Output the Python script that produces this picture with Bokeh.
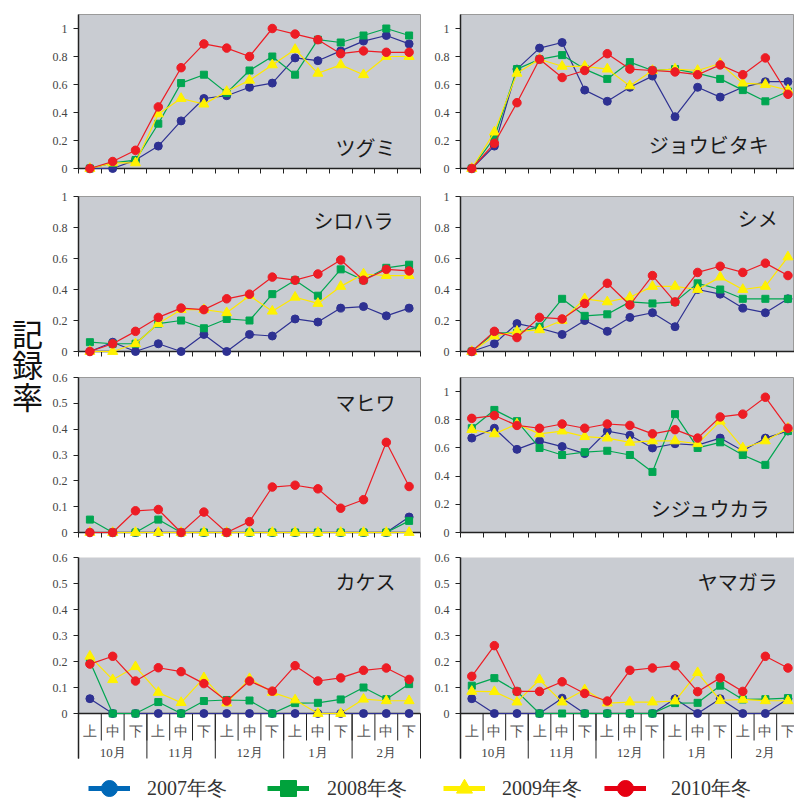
from bokeh.plotting import figure
from bokeh.models import (ColumnDataSource, Range1d, FixedTicker, Label, Span, BoxAnnotation,
                          Legend, LegendItem, PrintfTickFormatter)
from bokeh.layouts import gridplot, row, column
from bokeh.core.properties import value
from bokeh.embed import file_html
from bokeh.resources import INLINE
from bokeh.core.validation import silence
from bokeh.core.validation.warnings import MISSING_RENDERERS

silence(MISSING_RENDERERS, True)

# ---------------- data ----------------
months = ["10月", "11月", "12月", "1月", "2月"]
periods = ["上", "中", "下"]
categories = [(m, s) for m in months for s in periods]
years = ["2007年冬", "2008年冬", "2009年冬", "2010年冬"]
y_label_text = "記録率"

y_ticks_unit = [0, 0.2, 0.4, 0.6, 0.8, 1]
y_ticks_small = [0, 0.1, 0.2, 0.3, 0.4, 0.5, 0.6]

tsugumi_2007 = [0, 0, 0.06, 0.16, 0.34, 0.50, 0.52, 0.58, 0.61, 0.79, 0.77, 0.84, 0.91, 0.95, 0.89]
tsugumi_2008 = [0, 0.04, 0.06, 0.32, 0.61, 0.67, 0.54, 0.70, 0.80, 0.67, 0.92, 0.90, 0.95, 1.0, 0.95]
tsugumi_2009 = [0, 0.04, 0.04, 0.39, 0.50, 0.46, 0.55, 0.63, 0.74, 0.85, 0.68, 0.74, 0.67, 0.80, 0.80]
tsugumi_2010 = [0, 0.05, 0.13, 0.44, 0.72, 0.89, 0.86, 0.80, 1.0, 0.96, 0.92, 0.82, 0.84, 0.83, 0.83]

joubitaki_2007 = [0, 0.16, 0.71, 0.86, 0.90, 0.56, 0.48, 0.58, 0.66, 0.37, 0.58, 0.51, 0.58, 0.62, 0.62]
joubitaki_2008 = [0, 0.22, 0.71, 0.78, 0.81, 0.71, 0.64, 0.76, 0.70, 0.71, 0.68, 0.64, 0.56, 0.48, 0.55]
joubitaki_2009 = [0, 0.26, 0.68, 0.78, 0.73, 0.73, 0.71, 0.59, 0.70, 0.71, 0.70, 0.75, 0.61, 0.60, 0.56]
joubitaki_2010 = [0, 0.18, 0.47, 0.78, 0.65, 0.70, 0.82, 0.71, 0.70, 0.69, 0.67, 0.74, 0.67, 0.79, 0.53]

shirohara_2007 = [0, 0.06, 0, 0.05, 0, 0.11, 0, 0.11, 0.10, 0.21, 0.19, 0.28, 0.29, 0.23, 0.28]
shirohara_2008 = [0.06, 0.05, 0.05, 0.18, 0.20, 0.15, 0.21, 0.20, 0.37, 0.46, 0.36, 0.53, 0.46, 0.54, 0.56]
shirohara_2009 = [0, 0, 0.05, 0.18, 0.27, 0.27, 0.25, 0.36, 0.26, 0.35, 0.31, 0.42, 0.50, 0.49, 0.49]
shirohara_2010 = [0, 0.05, 0.13, 0.22, 0.28, 0.27, 0.34, 0.37, 0.48, 0.46, 0.50, 0.59, 0.46, 0.53, 0.52]

shime_2007 = [0, 0.05, 0.18, 0.15, 0.11, 0.20, 0.13, 0.22, 0.25, 0.16, 0.40, 0.37, 0.28, 0.25, 0.34]
shime_2008 = [0, 0.12, 0.12, 0.16, 0.34, 0.23, 0.24, 0.32, 0.31, 0.32, 0.44, 0.40, 0.34, 0.34, 0.34]
shime_2009 = [0, 0.10, 0.13, 0.14, 0.20, 0.34, 0.32, 0.35, 0.42, 0.42, 0.40, 0.48, 0.40, 0.42, 0.61]
shime_2010 = [0, 0.13, 0.09, 0.22, 0.21, 0.31, 0.44, 0.30, 0.49, 0.32, 0.51, 0.55, 0.51, 0.57, 0.49]

mahiwa_2007 = [0, 0, 0, 0, 0, 0, 0, 0, 0, 0, 0, 0, 0, 0, 0.06]
mahiwa_2008 = [0.05, 0, 0, 0.05, 0, 0, 0, 0, 0, 0, 0, 0, 0, 0, 0.045]
mahiwa_2009 = [0, 0, 0, 0, 0, 0, 0, 0, 0, 0, 0, 0, 0, 0, 0]
mahiwa_2010 = [0, 0, 0.084, 0.089, 0, 0.079, 0, 0.042, 0.176, 0.183, 0.169, 0.094, 0.127, 0.349, 0.178]

shijuukara_2007 = [0.67, 0.74, 0.59, 0.65, 0.61, 0.56, 0.72, 0.69, 0.60, 0.63, 0.62, 0.67, 0.58, 0.67, 0.72]
shijuukara_2008 = [0.74, 0.87, 0.79, 0.60, 0.55, 0.57, 0.58, 0.55, 0.43, 0.84, 0.60, 0.64, 0.55, 0.48, 0.72]
shijuukara_2009 = [0.73, 0.70, 0.77, 0.70, 0.72, 0.68, 0.67, 0.64, 0.65, 0.65, 0.63, 0.79, 0.60, 0.65, 0.74]
shijuukara_2010 = [0.81, 0.83, 0.76, 0.74, 0.77, 0.74, 0.77, 0.76, 0.70, 0.73, 0.67, 0.82, 0.84, 0.96, 0.74]

kakesu_2007 = [0.057, 0, 0, 0, 0, 0, 0, 0, 0, 0, 0, 0, 0, 0, 0]
kakesu_2008 = [0.20, 0, 0, 0.044, 0, 0.048, 0.052, 0.05, 0, 0.04, 0.041, 0.054, 0.10, 0.055, 0.113]
kakesu_2009 = [0.22, 0.13, 0.18, 0.081, 0.042, 0.137, 0.04, 0.134, 0.081, 0.052, 0, 0, 0.055, 0.049, 0.049]
kakesu_2010 = [0.19, 0.22, 0.125, 0.176, 0.161, 0.115, 0.048, 0.125, 0.086, 0.184, 0.125, 0.137, 0.166, 0.175, 0.131]

yamagara_2007 = [0.057, 0, 0, 0, 0.059, 0, 0, 0, 0, 0.057, 0, 0.057, 0, 0, 0.057]
yamagara_2008 = [0.107, 0.136, 0.085, 0, 0, 0, 0, 0, 0, 0.04, 0.041, 0.107, 0.054, 0.055, 0.059]
yamagara_2009 = [0.085, 0.084, 0.044, 0.13, 0.044, 0.091, 0.04, 0.044, 0.044, 0.048, 0.157, 0.05, 0.054, 0.049, 0.049]
yamagara_2010 = [0.143, 0.261, 0.085, 0.085, 0.122, 0.077, 0.048, 0.166, 0.175, 0.184, 0.084, 0.137, 0.085, 0.22, 0.175]

# ---------------- styles ----------------
SERIF = "Liberation Serif"
SANS = "Noto Sans CJK JP"
BG = "#C9CCD2"
AX = "#222222"
OUTLINE = "#9A9A9A"
line_colors = ["#2E3192", "#00A651", "#FFE800", "#ED1C24"]
fill_colors = ["#2E3192", "#00A651", "#FFF200", "#ED1C24"]
legend_colors = ["#0068B7", "#00A23C", "#FFF000", "#E60012"]
markers = ["circle", "square", "triangle", "circle"]
marker_sizes = [8, 7, 10, 8.5]

x_idx = list(range(len(categories)))
bounds = [i - 0.5 for i in range(len(categories) + 1)]
month_centers = [len(periods) * k + 1 for k in range(len(months))]
month_bounds = [len(periods) * k - 0.5 for k in range(len(months) + 1)]
sub_labels = [c[1] for c in categories]

LEFT_W, RIGHT_W, YLAB_W = 376, 370, 48
ROW_H = [184, 180, 180, 218]

# bottom-row category band (pixel lengths below the zero line)
BAND_PX, SUB_SEP_PX, SUB_TXT_PX, MON_TXT_PX = 45, 27, 17.5, 38.5


def style_yaxis(p, yticks):
    ya = p.yaxis[0]
    ya.ticker = FixedTicker(ticks=yticks)
    ya.formatter = PrintfTickFormatter(format="%g")
    ya.major_tick_out = 5
    ya.major_tick_in = 0
    ya.minor_tick_out = 0
    ya.minor_tick_in = 0
    ya.axis_line_color = AX
    ya.axis_line_width = 1.5
    ya.major_tick_line_color = AX
    ya.major_label_standoff = 6
    ya.major_label_text_font = SERIF
    ya.major_label_text_font_size = "12px"
    ya.major_label_text_color = "#444444"


def make_panel(name, series, ymax, yticks, width, height, borders, x_end,
               bottom, name_pos):
    bl, br, bt, bb = borders
    frame_h = height - bt - bb
    if bottom:
        px_per_unit = (frame_h - BAND_PX) / ymax
        y0 = -BAND_PX / px_per_unit
    else:
        y0 = 0
    p = figure(width=width, height=height, x_range=Range1d(-0.5, x_end),
               y_range=Range1d(y0, ymax), output_backend="svg",
               toolbar_location=None, title=None,
               min_border_left=bl, min_border_right=br,
               min_border_top=bt, min_border_bottom=bb,
               background_fill_color=BG if not bottom else "white",
               border_fill_color="white",
               outline_line_color=OUTLINE if not bottom else None, outline_line_width=1)
    p.xgrid.visible = False
    p.ygrid.visible = False
    style_yaxis(p, yticks)

    xa = p.xaxis[0]
    if not bottom:
        xa.axis_line_color = AX
        xa.axis_line_width = 1.5
        xa.ticker = FixedTicker(ticks=[], minor_ticks=bounds)
        xa.major_tick_out = 0
        xa.major_tick_in = 0
        xa.minor_tick_out = 5
        xa.minor_tick_in = 0
        xa.minor_tick_line_color = AX
    else:
        xa.visible = False
        p.add_layout(BoxAnnotation(bottom=0, fill_color=BG, fill_alpha=1,
                                   line_color=OUTLINE, line_width=1, level="underlay"))
        p.add_layout(Span(location=0, dimension="width", line_color=AX, line_width=1.5))
        sub_bot = -SUB_SEP_PX / px_per_unit
        p.segment(x0=bounds, y0=[0] * len(bounds), x1=bounds, y1=[sub_bot] * len(bounds),
                  line_color=AX, line_width=1, level="overlay")
        p.segment(x0=month_bounds, y0=[0] * len(month_bounds), x1=month_bounds,
                  y1=[y0] * len(month_bounds), line_color=AX, line_width=1, level="overlay")
        p.text(x=x_idx, y=[-SUB_TXT_PX / px_per_unit] * len(x_idx), text=sub_labels,
               text_align="center", text_baseline="middle", text_font=value(SERIF),
               text_font_size="14px", text_color="#555555")
        p.text(x=month_centers, y=[-MON_TXT_PX / px_per_unit] * len(month_centers), text=months,
               text_align="center", text_baseline="middle", text_font=value(SERIF),
               text_font_size="13px", text_color="#444444")

    for vals, lc, fc, mk, sz in zip(series, line_colors, fill_colors, markers, marker_sizes):
        src = ColumnDataSource(dict(x=x_idx, y=vals))
        p.line("x", "y", source=src, line_color=lc, line_width=1.2, level="overlay")
        p.scatter("x", "y", source=src, marker=mk, size=sz, fill_color=fc,
                  line_color=fc, level="overlay")

    p.add_layout(Label(x=name_pos[0], y=name_pos[1], text=name, text_align="right",
                       text_baseline="middle", text_font=SANS, text_font_size="20px",
                       text_color="#1A1A1A"))
    return p


L_END, R_END = 14.5, 14.29

p1 = make_panel("ツグミ", [tsugumi_2007, tsugumi_2008, tsugumi_2009, tsugumi_2010],
                1.1, y_ticks_unit, LEFT_W, ROW_H[0], (30, 4, 12, 16), L_END, False, (13.4, 0.15))
p2 = make_panel("ジョウビタキ", [joubitaki_2007, joubitaki_2008, joubitaki_2009, joubitaki_2010],
                1.1, y_ticks_unit, RIGHT_W, ROW_H[0], (36, 0, 14, 12), R_END, False, (13.15, 0.17))
p3 = make_panel("シロハラ", [shirohara_2007, shirohara_2008, shirohara_2009, shirohara_2010],
                1.0, y_ticks_unit, LEFT_W, ROW_H[1], (30, 4, 12, 13), L_END, False, (13.32, 0.845))
p4 = make_panel("シメ", [shime_2007, shime_2008, shime_2009, shime_2010],
                1.0, y_ticks_unit, RIGHT_W, ROW_H[1], (36, 0, 12, 12), R_END, False, (13.55, 0.86))
p5 = make_panel("マヒワ", [mahiwa_2007, mahiwa_2008, mahiwa_2009, mahiwa_2010],
                0.6, y_ticks_small, LEFT_W, ROW_H[2], (30, 4, 13, 12), L_END, False, (13.4, 0.503))
p6 = make_panel("シジュウカラ", [shijuukara_2007, shijuukara_2008, shijuukara_2009, shijuukara_2010],
                1.1, y_ticks_unit, RIGHT_W, ROW_H[2], (36, 0, 13, 11), R_END, False, (13.24, 0.17))
p7 = make_panel("カケス", [kakesu_2007, kakesu_2008, kakesu_2009, kakesu_2010],
                0.6, y_ticks_small, LEFT_W, ROW_H[3], (30, 4, 13, 4), L_END, True, (13.4, 0.508))
p8 = make_panel("ヤマガラ", [yamagara_2007, yamagara_2008, yamagara_2009, yamagara_2010],
                0.6, y_ticks_small, RIGHT_W, ROW_H[3], (36, 0, 13, 4), R_END, True, (13.55, 0.508))

grid = gridplot([[p1, p2], [p3, p4], [p5, p6], [p7, p8]], toolbar_location=None)

# y-axis title column
grid_h = sum(ROW_H)
ylab = figure(width=YLAB_W, height=grid_h, x_range=Range1d(0, YLAB_W), y_range=Range1d(0, grid_h),
              output_backend="svg", toolbar_location=None, title=None, min_border=0,
              x_axis_type=None, y_axis_type=None, outline_line_color=None,
              background_fill_color="white", border_fill_color="white")
ylab.xgrid.visible = False
ylab.ygrid.visible = False
char_centers = [331.5, 362.5, 394.5]
for ch, cy in zip(y_label_text, char_centers):
    ylab.add_layout(Label(x=27, y=grid_h - cy, text=ch, text_align="center",
                          text_baseline="middle", text_font=SANS, text_font_size="31px",
                          text_color="#111111"))

# legend strip
leg_w = YLAB_W + LEFT_W + RIGHT_W
leg = figure(width=leg_w, height=38, x_range=Range1d(0, 1), y_range=Range1d(0, 1),
             output_backend="svg", toolbar_location=None, title=None, min_border=0,
             x_axis_type=None, y_axis_type=None, outline_line_color=None,
             background_fill_color="white", border_fill_color="white")
leg.xgrid.visible = False
leg.ygrid.visible = False
legend_x = [88, 267, 443, 604]
legend_standoff = [17, 18, 17, 25]
for yr, lc, mk, lx, so in zip(years, legend_colors, markers, legend_x, legend_standoff):
    src = ColumnDataSource(dict(x=[float("nan")], y=[float("nan")]))
    lr = leg.line("x", "y", source=src, line_color=lc, line_width=5)
    sr = leg.scatter("x", "y", source=src, marker=mk, fill_color=lc, line_color=lc)
    lg = Legend(items=[LegendItem(label=yr, renderers=[lr, sr])], location=(lx, -8),
                orientation="horizontal", glyph_width=42, glyph_height=40,
                label_standoff=so, padding=0, margin=0, spacing=0,
                border_line_color=None, background_fill_alpha=0,
                label_text_font=SERIF, label_text_font_size="20px",
                label_text_color="#333333")
    leg.add_layout(lg)

layout = column(row(ylab, grid), leg)

open("out.html", "w").write(file_html(layout, INLINE))
